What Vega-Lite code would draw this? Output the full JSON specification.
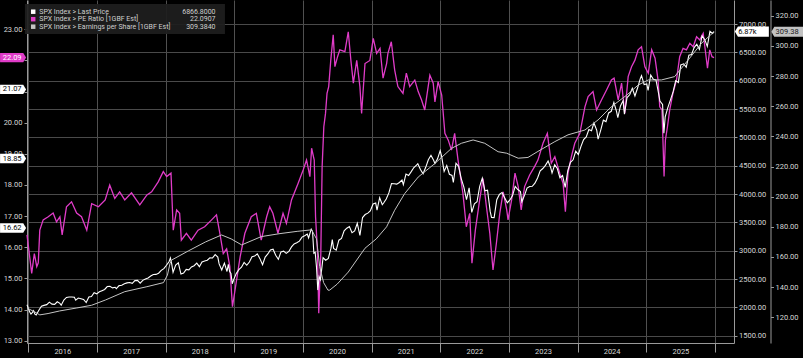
{
"$schema": "https://vega.github.io/schema/vega-lite/v6.json",
"width": 707, "height": 343,
"autosize": {"type": "none"},
"padding": {"left": 27, "top": 0, "right": 69, "bottom": 15},
"background": "#000000",
"config": {
  "view": {"stroke": null},
  "axis": {"labelFont": "Roboto", "labelFontSize": 7.5, "labelColor": "#d6d6d6", "domainColor": "#9a9a9a", "tickColor": "#9a9a9a", "gridColor": "#4a4a4a", "title": null, "tickSize": 3, "labelPadding": 2, "labelOverlap": false, "labelFlush": false, "labelBound": false},
  "text": {"font": "Roboto"}
},
"datasets": {
"price": [
{"date":"2015-12-25","v":2045},{"date":"2016-01-08","v":1922},{"date":"2016-01-15","v":1880},{"date":"2016-01-22","v":1907},{"date":"2016-01-29","v":1940},{"date":"2016-02-05","v":1880},{"date":"2016-02-12","v":1865},{"date":"2016-02-26","v":1948},{"date":"2016-03-11","v":2022},{"date":"2016-03-24","v":2035},{"date":"2016-04-08","v":2048},{"date":"2016-04-22","v":2092},{"date":"2016-05-06","v":2057},{"date":"2016-05-20","v":2052},{"date":"2016-06-03","v":2099},{"date":"2016-06-17","v":2071},{"date":"2016-06-24","v":2037},{"date":"2016-07-08","v":2130},{"date":"2016-07-22","v":2175},{"date":"2016-08-05","v":2183},{"date":"2016-08-19","v":2184},{"date":"2016-09-02","v":2180},{"date":"2016-09-09","v":2128},{"date":"2016-09-23","v":2165},{"date":"2016-10-07","v":2153},{"date":"2016-10-21","v":2141},{"date":"2016-11-04","v":2085},{"date":"2016-11-18","v":2182},{"date":"2016-12-02","v":2192},{"date":"2016-12-16","v":2258},{"date":"2016-12-30","v":2239},
{"date":"2017-01-13","v":2275},{"date":"2017-01-27","v":2295},{"date":"2017-02-10","v":2316},{"date":"2017-02-24","v":2367},{"date":"2017-03-10","v":2373},{"date":"2017-03-24","v":2344},{"date":"2017-04-07","v":2355},{"date":"2017-04-13","v":2329},{"date":"2017-04-28","v":2384},{"date":"2017-05-12","v":2391},{"date":"2017-05-26","v":2416},{"date":"2017-06-09","v":2432},{"date":"2017-06-23","v":2438},{"date":"2017-07-07","v":2425},{"date":"2017-07-21","v":2472},{"date":"2017-08-04","v":2477},{"date":"2017-08-18","v":2426},{"date":"2017-09-01","v":2477},{"date":"2017-09-15","v":2500},{"date":"2017-09-29","v":2519},{"date":"2017-10-13","v":2553},{"date":"2017-10-27","v":2581},{"date":"2017-11-10","v":2582},{"date":"2017-11-24","v":2602},{"date":"2017-12-08","v":2652},{"date":"2017-12-22","v":2684},
{"date":"2018-01-05","v":2743},{"date":"2018-01-19","v":2810},{"date":"2018-01-26","v":2873},{"date":"2018-02-02","v":2762},{"date":"2018-02-09","v":2620},{"date":"2018-02-23","v":2747},{"date":"2018-03-09","v":2786},{"date":"2018-03-23","v":2588},{"date":"2018-04-06","v":2604},{"date":"2018-04-20","v":2670},{"date":"2018-05-04","v":2663},{"date":"2018-05-18","v":2713},{"date":"2018-06-01","v":2735},{"date":"2018-06-15","v":2780},{"date":"2018-06-29","v":2718},{"date":"2018-07-13","v":2801},{"date":"2018-07-27","v":2819},{"date":"2018-08-10","v":2833},{"date":"2018-08-24","v":2875},{"date":"2018-09-07","v":2872},{"date":"2018-09-21","v":2930},{"date":"2018-10-05","v":2886},{"date":"2018-10-12","v":2767},{"date":"2018-10-26","v":2659},{"date":"2018-11-09","v":2781},{"date":"2018-11-23","v":2633},{"date":"2018-11-30","v":2760},{"date":"2018-12-07","v":2633},{"date":"2018-12-14","v":2600},{"date":"2018-12-21","v":2417},{"date":"2018-12-28","v":2486},
{"date":"2019-01-11","v":2596},{"date":"2019-01-25","v":2665},{"date":"2019-02-08","v":2708},{"date":"2019-02-22","v":2793},{"date":"2019-03-08","v":2743},{"date":"2019-03-22","v":2800},{"date":"2019-04-05","v":2893},{"date":"2019-04-19","v":2905},{"date":"2019-05-03","v":2946},{"date":"2019-05-17","v":2860},{"date":"2019-05-31","v":2752},{"date":"2019-06-14","v":2887},{"date":"2019-06-28","v":2942},{"date":"2019-07-12","v":3014},{"date":"2019-07-26","v":3026},{"date":"2019-08-09","v":2919},{"date":"2019-08-23","v":2847},{"date":"2019-09-06","v":2979},{"date":"2019-09-20","v":2992},{"date":"2019-10-04","v":2952},{"date":"2019-10-18","v":2986},{"date":"2019-11-01","v":3067},{"date":"2019-11-15","v":3120},{"date":"2019-11-29","v":3141},{"date":"2019-12-13","v":3169},{"date":"2019-12-27","v":3240},
{"date":"2020-01-10","v":3265},{"date":"2020-01-24","v":3295},{"date":"2020-01-31","v":3226},{"date":"2020-02-14","v":3380},{"date":"2020-02-21","v":3338},{"date":"2020-02-28","v":2954},{"date":"2020-03-06","v":2972},{"date":"2020-03-13","v":2711},{"date":"2020-03-20","v":2305},{"date":"2020-03-27","v":2541},{"date":"2020-04-03","v":2489},{"date":"2020-04-17","v":2875},{"date":"2020-05-01","v":2831},{"date":"2020-05-15","v":2864},{"date":"2020-05-29","v":3044},{"date":"2020-06-05","v":3194},{"date":"2020-06-12","v":3041},{"date":"2020-06-26","v":3009},{"date":"2020-07-10","v":3185},{"date":"2020-07-24","v":3216},{"date":"2020-08-07","v":3351},{"date":"2020-08-21","v":3397},{"date":"2020-09-04","v":3427},{"date":"2020-09-18","v":3319},{"date":"2020-10-02","v":3348},{"date":"2020-10-16","v":3484},{"date":"2020-10-30","v":3270},{"date":"2020-11-13","v":3585},{"date":"2020-11-27","v":3638},{"date":"2020-12-11","v":3663},{"date":"2020-12-24","v":3703},
{"date":"2021-01-08","v":3825},{"date":"2021-01-22","v":3841},{"date":"2021-01-29","v":3714},{"date":"2021-02-12","v":3934},{"date":"2021-02-26","v":3811},{"date":"2021-03-05","v":3842},{"date":"2021-03-19","v":3913},{"date":"2021-04-02","v":4020},{"date":"2021-04-16","v":4185},{"date":"2021-04-30","v":4181},{"date":"2021-05-14","v":4174},{"date":"2021-05-28","v":4204},{"date":"2021-06-11","v":4247},{"date":"2021-06-18","v":4166},{"date":"2021-07-02","v":4352},{"date":"2021-07-16","v":4327},{"date":"2021-07-30","v":4395},{"date":"2021-08-13","v":4468},{"date":"2021-08-27","v":4509},{"date":"2021-09-03","v":4535},{"date":"2021-09-17","v":4433},{"date":"2021-10-01","v":4357},{"date":"2021-10-15","v":4471},{"date":"2021-10-29","v":4605},{"date":"2021-11-12","v":4683},{"date":"2021-11-26","v":4595},{"date":"2021-12-03","v":4538},{"date":"2021-12-17","v":4621},{"date":"2021-12-31","v":4766},
{"date":"2022-01-07","v":4677},{"date":"2022-01-21","v":4398},{"date":"2022-02-04","v":4501},{"date":"2022-02-18","v":4349},{"date":"2022-03-04","v":4329},{"date":"2022-03-11","v":4204},{"date":"2022-03-25","v":4543},{"date":"2022-04-08","v":4488},{"date":"2022-04-22","v":4272},{"date":"2022-05-06","v":4123},{"date":"2022-05-20","v":3901},{"date":"2022-06-03","v":4109},{"date":"2022-06-17","v":3675},{"date":"2022-07-01","v":3825},{"date":"2022-07-15","v":3863},{"date":"2022-07-29","v":4130},{"date":"2022-08-12","v":4280},{"date":"2022-08-26","v":4058},{"date":"2022-09-09","v":4067},{"date":"2022-09-23","v":3693},{"date":"2022-09-30","v":3586},{"date":"2022-10-14","v":3583},{"date":"2022-10-28","v":3901},{"date":"2022-11-11","v":3993},{"date":"2022-11-25","v":4026},{"date":"2022-12-09","v":3934},{"date":"2022-12-23","v":3845},
{"date":"2023-01-06","v":3895},{"date":"2023-01-20","v":3973},{"date":"2023-02-03","v":4136},{"date":"2023-02-17","v":4079},{"date":"2023-03-03","v":4045},{"date":"2023-03-10","v":3862},{"date":"2023-03-24","v":3971},{"date":"2023-04-07","v":4105},{"date":"2023-04-21","v":4133},{"date":"2023-05-05","v":4136},{"date":"2023-05-19","v":4192},{"date":"2023-06-02","v":4282},{"date":"2023-06-16","v":4410},{"date":"2023-06-30","v":4450},{"date":"2023-07-14","v":4505},{"date":"2023-07-28","v":4582},{"date":"2023-08-11","v":4464},{"date":"2023-08-18","v":4370},{"date":"2023-09-01","v":4515},{"date":"2023-09-15","v":4450},{"date":"2023-09-29","v":4288},{"date":"2023-10-13","v":4327},{"date":"2023-10-27","v":4117},{"date":"2023-11-10","v":4415},{"date":"2023-11-24","v":4559},{"date":"2023-12-08","v":4604},{"date":"2023-12-22","v":4755},
{"date":"2024-01-05","v":4697},{"date":"2024-01-19","v":4840},{"date":"2024-02-02","v":4959},{"date":"2024-02-16","v":5006},{"date":"2024-03-01","v":5137},{"date":"2024-03-15","v":5117},{"date":"2024-03-28","v":5254},{"date":"2024-04-12","v":5123},{"date":"2024-04-19","v":4967},{"date":"2024-05-03","v":5128},{"date":"2024-05-17","v":5303},{"date":"2024-05-31","v":5278},{"date":"2024-06-14","v":5431},{"date":"2024-06-28","v":5460},{"date":"2024-07-12","v":5615},{"date":"2024-07-26","v":5459},{"date":"2024-08-02","v":5346},{"date":"2024-08-16","v":5554},{"date":"2024-08-30","v":5648},{"date":"2024-09-06","v":5408},{"date":"2024-09-20","v":5703},{"date":"2024-10-04","v":5751},{"date":"2024-10-18","v":5864},{"date":"2024-11-01","v":5729},{"date":"2024-11-15","v":5870},{"date":"2024-11-29","v":6032},{"date":"2024-12-06","v":6090},{"date":"2024-12-20","v":5930},
{"date":"2025-01-03","v":5942},{"date":"2025-01-10","v":5827},{"date":"2025-01-24","v":6101},{"date":"2025-02-07","v":6026},{"date":"2025-02-21","v":6013},{"date":"2025-03-07","v":5770},{"date":"2025-03-14","v":5639},{"date":"2025-03-28","v":5581},{"date":"2025-04-04","v":5074},{"date":"2025-04-11","v":5363},{"date":"2025-04-25","v":5525},{"date":"2025-05-09","v":5660},{"date":"2025-05-23","v":5802},{"date":"2025-06-06","v":6000},{"date":"2025-06-20","v":5967},{"date":"2025-07-03","v":6279},{"date":"2025-07-18","v":6297},{"date":"2025-08-01","v":6238},{"date":"2025-08-15","v":6450},{"date":"2025-08-29","v":6460},{"date":"2025-09-12","v":6584},{"date":"2025-09-26","v":6644},{"date":"2025-10-10","v":6553},{"date":"2025-10-24","v":6792},{"date":"2025-11-07","v":6728},{"date":"2025-11-21","v":6603},{"date":"2025-12-05","v":6870},{"date":"2025-12-19","v":6834},{"date":"2025-12-27","v":6866.8}
],
"pe": [
{"date":"2015-12-25","v":16.4},{"date":"2016-01-19","v":15.16},{"date":"2016-02-02","v":15.8},{"date":"2016-02-15","v":15.38},{"date":"2016-02-23","v":15.5},{"date":"2016-03-02","v":16.55},{"date":"2016-03-20","v":16.88},{"date":"2016-04-16","v":16.98},{"date":"2016-05-12","v":17.1},{"date":"2016-05-30","v":16.82},{"date":"2016-06-17","v":16.98},{"date":"2016-06-29","v":16.4},{"date":"2016-07-22","v":17.3},{"date":"2016-08-18","v":17.46},{"date":"2016-09-14","v":17.1},{"date":"2016-10-10","v":16.98},{"date":"2016-11-07","v":16.55},{"date":"2016-12-03","v":17.4},
{"date":"2017-01-08","v":17.3},{"date":"2017-02-13","v":17.52},{"date":"2017-03-09","v":18.0},{"date":"2017-04-05","v":17.57},{"date":"2017-05-01","v":17.78},{"date":"2017-05-28","v":17.52},{"date":"2017-07-03","v":17.75},{"date":"2017-08-16","v":17.36},{"date":"2017-09-23","v":17.68},{"date":"2017-10-18","v":17.78},{"date":"2017-11-22","v":18.1},{"date":"2017-12-19","v":18.43},
{"date":"2018-01-06","v":18.27},{"date":"2018-01-29","v":18.38},{"date":"2018-02-10","v":16.55},{"date":"2018-02-28","v":17.2},{"date":"2018-03-16","v":17.09},{"date":"2018-03-25","v":16.23},{"date":"2018-04-21","v":16.45},{"date":"2018-05-17","v":16.23},{"date":"2018-06-22","v":16.55},{"date":"2018-07-27","v":16.66},{"date":"2018-09-02","v":16.88},{"date":"2018-09-28","v":17.04},{"date":"2018-10-16","v":16.45},{"date":"2018-11-03","v":15.8},{"date":"2018-11-21","v":15.95},{"date":"2018-12-08","v":15.38},{"date":"2018-12-22","v":14.09},
{"date":"2019-01-13","v":14.95},{"date":"2019-02-01","v":15.7},{"date":"2019-02-26","v":16.45},{"date":"2019-04-01","v":16.98},{"date":"2019-04-28","v":17.09},{"date":"2019-05-24","v":16.23},{"date":"2019-06-22","v":16.98},{"date":"2019-07-08","v":17.3},{"date":"2019-07-25","v":17.09},{"date":"2019-08-21","v":16.45},{"date":"2019-09-17","v":17.09},{"date":"2019-10-05","v":16.77},{"date":"2019-11-01","v":17.52},{"date":"2019-12-06","v":18.05},
{"date":"2020-01-02","v":18.48},{"date":"2020-01-20","v":18.8},{"date":"2020-02-07","v":18.27},{"date":"2020-02-16","v":19.18},{"date":"2020-03-01","v":18.8},{"date":"2020-03-08","v":16.98},{"date":"2020-03-18","v":15.91},{"date":"2020-03-25","v":13.88},{"date":"2020-04-05","v":15.8},{"date":"2020-04-12","v":18.59},{"date":"2020-04-21","v":19.87},{"date":"2020-04-30","v":20.3},{"date":"2020-05-08","v":20.94},{"date":"2020-05-17","v":21.16},{"date":"2020-05-28","v":22.01},{"date":"2020-06-10","v":22.82},{"date":"2020-06-19","v":21.8},{"date":"2020-07-03","v":22.12},{"date":"2020-07-15","v":22.34},{"date":"2020-08-11","v":22.28},{"date":"2020-08-29","v":22.92},{"date":"2020-09-12","v":22.0},{"date":"2020-09-25","v":21.27},{"date":"2020-10-13","v":22.0},{"date":"2020-10-30","v":21.16},{"date":"2020-11-08","v":20.3},{"date":"2020-11-26","v":21.9},{"date":"2020-12-22","v":22.0},
{"date":"2021-01-09","v":22.71},{"date":"2021-01-27","v":22.23},{"date":"2021-02-14","v":22.39},{"date":"2021-03-02","v":21.43},{"date":"2021-03-21","v":21.9},{"date":"2021-03-28","v":22.23},{"date":"2021-04-15","v":22.6},{"date":"2021-05-03","v":21.69},{"date":"2021-05-20","v":21.16},{"date":"2021-06-16","v":20.94},{"date":"2021-07-04","v":21.59},{"date":"2021-07-22","v":21.16},{"date":"2021-08-18","v":21.37},{"date":"2021-09-05","v":21.0},{"date":"2021-09-23","v":20.73},{"date":"2021-10-10","v":20.41},{"date":"2021-11-06","v":21.53},{"date":"2021-11-24","v":21.27},{"date":"2021-12-03","v":20.67},{"date":"2021-12-20","v":21.32},
{"date":"2022-01-08","v":20.89},{"date":"2022-01-25","v":19.66},{"date":"2022-02-12","v":19.44},{"date":"2022-03-01","v":19.12},{"date":"2022-03-18","v":19.66},{"date":"2022-04-05","v":18.8},{"date":"2022-05-01","v":17.73},{"date":"2022-05-19","v":16.66},{"date":"2022-06-06","v":17.09},{"date":"2022-06-18","v":15.49},{"date":"2022-07-06","v":16.55},{"date":"2022-07-29","v":17.52},{"date":"2022-08-16","v":18.21},{"date":"2022-09-03","v":17.3},{"date":"2022-09-21","v":16.45},{"date":"2022-10-08","v":15.27},{"date":"2022-10-26","v":16.13},{"date":"2022-11-13","v":17.09},{"date":"2022-12-01","v":17.78},{"date":"2022-12-20","v":17.2},{"date":"2022-12-27","v":16.88},
{"date":"2023-01-15","v":17.52},{"date":"2023-02-02","v":18.38},{"date":"2023-02-19","v":17.95},{"date":"2023-03-07","v":17.2},{"date":"2023-03-25","v":17.95},{"date":"2023-04-21","v":18.32},{"date":"2023-05-17","v":18.59},{"date":"2023-06-04","v":18.8},{"date":"2023-07-01","v":19.34},{"date":"2023-07-24","v":19.66},{"date":"2023-08-14","v":18.7},{"date":"2023-09-02","v":18.91},{"date":"2023-09-28","v":18.38},{"date":"2023-10-16","v":18.05},{"date":"2023-10-28","v":17.14},{"date":"2023-11-11","v":18.38},{"date":"2023-11-29","v":18.91},{"date":"2023-12-17","v":19.34},
{"date":"2024-01-13","v":19.66},{"date":"2024-02-09","v":20.51},{"date":"2024-02-26","v":20.84},{"date":"2024-03-23","v":21.0},{"date":"2024-04-11","v":20.41},{"date":"2024-05-07","v":20.73},{"date":"2024-06-03","v":21.05},{"date":"2024-06-29","v":21.37},{"date":"2024-07-13","v":21.43},{"date":"2024-08-04","v":20.73},{"date":"2024-08-22","v":21.27},{"date":"2024-09-08","v":20.3},{"date":"2024-09-26","v":21.48},{"date":"2024-10-14","v":21.8},{"date":"2024-11-01","v":22.01},{"date":"2024-11-18","v":22.34},{"date":"2024-12-06","v":22.44},{"date":"2024-12-24","v":21.8},
{"date":"2025-01-11","v":21.59},{"date":"2025-01-29","v":22.34},{"date":"2025-02-16","v":22.07},{"date":"2025-03-04","v":21.37},{"date":"2025-03-13","v":20.51},{"date":"2025-03-25","v":20.41},{"date":"2025-04-05","v":18.27},{"date":"2025-04-12","v":19.44},{"date":"2025-04-23","v":19.87},{"date":"2025-05-05","v":20.41},{"date":"2025-05-22","v":20.94},{"date":"2025-06-10","v":21.37},{"date":"2025-06-27","v":22.12},{"date":"2025-07-15","v":22.39},{"date":"2025-08-02","v":22.34},{"date":"2025-08-20","v":22.55},{"date":"2025-09-07","v":22.44},{"date":"2025-09-25","v":22.76},{"date":"2025-10-12","v":22.66},{"date":"2025-10-30","v":22.87},{"date":"2025-11-08","v":22.44},{"date":"2025-11-22","v":21.75},{"date":"2025-12-04","v":22.34},{"date":"2025-12-16","v":22.12},{"date":"2025-12-27","v":22.0907}
],
"eps": [
{"date":"2015-12-25","v":126.2},{"date":"2016-02-05","v":123.5},{"date":"2016-03-02","v":121.6},{"date":"2016-04-15","v":122.5},{"date":"2016-06-15","v":124.2},{"date":"2016-09-15","v":126.2},{"date":"2016-12-03","v":128},{"date":"2017-02-15","v":131.5},{"date":"2017-05-28","v":137},{"date":"2017-09-23","v":140.3},{"date":"2017-12-20","v":143},{"date":"2018-01-10","v":148},{"date":"2018-01-24","v":155.8},{"date":"2018-02-02","v":158},{"date":"2018-05-01","v":164},{"date":"2018-08-01","v":170},{"date":"2018-10-25","v":174.6},{"date":"2018-12-15","v":172},{"date":"2019-02-09","v":168},{"date":"2019-05-24","v":173.5},{"date":"2019-09-01","v":175.5},{"date":"2019-12-01","v":177},{"date":"2020-02-16","v":178},{"date":"2020-03-13","v":172},{"date":"2020-03-30","v":153.6},{"date":"2020-04-20","v":143},{"date":"2020-05-13","v":138},{"date":"2020-05-22","v":138},{"date":"2020-07-01","v":142},{"date":"2020-08-29","v":150},{"date":"2020-11-26","v":165.8},{"date":"2021-01-25","v":172},{"date":"2021-03-21","v":180},{"date":"2021-05-03","v":191},{"date":"2021-06-25","v":202},{"date":"2021-09-05","v":213},{"date":"2021-12-03","v":222},{"date":"2022-03-01","v":232},{"date":"2022-04-23","v":235.4},{"date":"2022-06-24","v":237.6},{"date":"2022-08-25","v":235.4},{"date":"2022-11-04","v":229.8},{"date":"2022-12-20","v":228.8},{"date":"2023-02-19","v":225.5},{"date":"2023-04-12","v":226},{"date":"2023-06-04","v":230},{"date":"2023-09-02","v":236.5},{"date":"2023-11-11","v":241},{"date":"2024-02-09","v":244.2},{"date":"2024-04-19","v":250.9},{"date":"2024-06-29","v":259.7},{"date":"2024-09-19","v":267.4},{"date":"2024-11-18","v":274},{"date":"2025-01-11","v":277.4},{"date":"2025-03-22","v":277.4},{"date":"2025-05-31","v":279.6},{"date":"2025-08-11","v":290.6},{"date":"2025-10-21","v":301.7},{"date":"2025-12-27","v":309.384}
]
},
"layer": [
{
  "layer": [
    {"mark": {"type": "rule", "color": "#4f9f4f", "strokeWidth": 1}, "encoding": {"y": {"datum": 21.07, "axis": {"orient": "left", "values": [13,14,15,16,17,18,19,20,21,22,23], "format": ".2f", "labelExpr": "datum.value === 21 || datum.value === 22 ? '' : datum.label", "labelOverlap": false, "grid": false, "tickSize": 3, "labelPadding": 2}}}},
    {"mark": {"type": "rule", "color": "#5aa85a", "strokeWidth": 1}, "encoding": {"y": {"datum": 16.62, "axis": {"orient": "left", "values": [13,14,15,16,17,18,19,20,21,22,23], "format": ".2f", "labelExpr": "datum.value === 21 || datum.value === 22 ? '' : datum.label", "labelOverlap": false, "grid": false, "tickSize": 3, "labelPadding": 2}}}},
    {"mark": {"type": "rule", "color": "#33cc33", "strokeWidth": 1, "strokeDash": [4, 2, 1, 2]}, "encoding": {"y": {"datum": 18.85, "axis": {"orient": "left", "values": [13,14,15,16,17,18,19,20,21,22,23], "format": ".2f", "labelExpr": "datum.value === 21 || datum.value === 22 ? '' : datum.label", "labelOverlap": false, "grid": false, "tickSize": 3, "labelPadding": 2}}}},
    {"data": {"name": "pe"}, "mark": {"type": "line", "color": "#e03cc8", "strokeWidth": 1.3},
     "encoding": {
       "x": {"field": "date", "type": "temporal",
             "scale": {"domain": [{"year": 2015, "month": 12, "date": 25}, {"year": 2026, "month": 4, "date": 12}], "nice": false},
             "axis": {"tickCount": {"interval": "year", "step": 1}, "format": "%Y", "labelExpr": "year(datum.value) >= 2026 ? '' : datum.label", "labelOffset": 34, "labelAlign": "center", "grid": true, "gridColor": "#505050", "tickSize": 9, "labelPadding": -5, "labelOverlap": false}},
       "y": {"field": "v", "type": "quantitative",
             "scale": {"domain": [12.926, 23.941], "nice": false, "zero": false},
             "axis": {"orient": "left", "values": [13,14,15,16,17,18,19,20,21,22,23], "format": ".2f", "labelExpr": "datum.value === 21 || datum.value === 22 ? '' : datum.label", "labelOverlap": false, "grid": false, "tickSize": 3, "labelPadding": 2}}
     }},
    {"data": {"values": [{"v": 21.07}, {"v": 18.85}, {"v": 16.62}]},
     "layer": [
       {"mark": {"type": "point", "shape": "M-1,-0.36 L0.78,-0.36 L1,0 L0.78,0.36 L-1,0.36 Z", "filled": true, "color": "#ffffff", "opacity": 1, "size": 676},
        "encoding": {"x": {"datum": {"year": 2015, "month": 10, "date": 12}, "type": "temporal"}, "y": {"field": "v", "type": "quantitative", "axis": {"orient": "left", "values": [13,14,15,16,17,18,19,20,21,22,23], "format": ".2f", "labelExpr": "datum.value === 21 || datum.value === 22 ? '' : datum.label", "labelOverlap": false, "grid": false, "tickSize": 3, "labelPadding": 2}}}},
       {"mark": {"type": "text", "fontSize": 7.5, "color": "#000000"},
        "encoding": {"x": {"datum": {"year": 2015, "month": 10, "date": 7}, "type": "temporal"}, "y": {"field": "v", "type": "quantitative", "axis": {"orient": "left", "values": [13,14,15,16,17,18,19,20,21,22,23], "format": ".2f", "labelExpr": "datum.value === 21 || datum.value === 22 ? '' : datum.label", "labelOverlap": false, "grid": false, "tickSize": 3, "labelPadding": 2}}, "text": {"field": "v", "type": "quantitative", "format": ".2f"}}}
     ]},
    {"data": {"values": [{"v": 22.0907}]},
     "layer": [
       {"mark": {"type": "point", "shape": "M-1,-0.36 L0.78,-0.36 L1,0 L0.78,0.36 L-1,0.36 Z", "filled": true, "color": "#e03cc8", "opacity": 1, "size": 676},
        "encoding": {"x": {"datum": {"year": 2015, "month": 10, "date": 12}, "type": "temporal"}, "y": {"field": "v", "type": "quantitative", "axis": {"orient": "left", "values": [13,14,15,16,17,18,19,20,21,22,23], "format": ".2f", "labelExpr": "datum.value === 21 || datum.value === 22 ? '' : datum.label", "labelOverlap": false, "grid": false, "tickSize": 3, "labelPadding": 2}}}},
       {"mark": {"type": "text", "fontSize": 7.5, "color": "#ffffff"},
        "encoding": {"x": {"datum": {"year": 2015, "month": 10, "date": 7}, "type": "temporal"}, "y": {"field": "v", "type": "quantitative", "axis": {"orient": "left", "values": [13,14,15,16,17,18,19,20,21,22,23], "format": ".2f", "labelExpr": "datum.value === 21 || datum.value === 22 ? '' : datum.label", "labelOverlap": false, "grid": false, "tickSize": 3, "labelPadding": 2}}, "text": {"field": "v", "type": "quantitative", "format": ".2f"}}}
     ]}
  ]
},
{
  "layer": [
    {"data": {"name": "price"}, "mark": {"type": "line", "color": "#ffffff", "strokeWidth": 1.1},
     "encoding": {
       "x": {"field": "date", "type": "temporal"},
       "y": {"field": "v", "type": "quantitative",
             "scale": {"domain": [1371.2, 7423.5], "nice": false, "zero": false},
             "axis": {"orient": "right", "values": [1500,2000,2500,3000,3500,4000,4500,5000,5500,6000,6500,7000], "format": ".2f", "labelOverlap": false, "grid": true, "gridColor": "#4a4a4a", "tickSize": 3, "labelPadding": 1.5}}
     }},
    {"data": {"values": [{"v": 6866.8}]},
     "layer": [
       {"mark": {"type": "point", "shape": "M-1,0 L-0.82,-0.3 L1,-0.3 L1,0.3 L-0.82,0.3 Z", "filled": true, "color": "#ffffff", "opacity": 1, "size": 1156},
        "encoding": {"x": {"datum": {"year": 2026, "month": 7, "date": 16}, "type": "temporal"}, "y": {"field": "v", "type": "quantitative", "axis": {"orient": "right", "values": [1500,2000,2500,3000,3500,4000,4500,5000,5500,6000,6500,7000], "format": ".2f", "labelOverlap": false, "grid": true, "gridColor": "#4a4a4a", "tickSize": 3, "labelPadding": 1.5}}}},
       {"mark": {"type": "text", "fontSize": 7.5, "color": "#000000", "align": "left"},
        "encoding": {"x": {"datum": {"year": 2026, "month": 5, "date": 4}, "type": "temporal"}, "y": {"field": "v", "type": "quantitative", "axis": {"orient": "right", "values": [1500,2000,2500,3000,3500,4000,4500,5000,5500,6000,6500,7000], "format": ".2f", "labelOverlap": false, "grid": true, "gridColor": "#4a4a4a", "tickSize": 3, "labelPadding": 1.5}}, "text": {"field": "v", "type": "quantitative", "format": ".3s"}}}
     ]}
  ]
},
{
  "layer": [
    {"data": {"name": "eps"}, "mark": {"type": "line", "color": "#c4c4c4", "strokeWidth": 1},
     "encoding": {
       "x": {"field": "date", "type": "temporal"},
       "y": {"field": "v", "type": "quantitative",
             "scale": {"domain": [102.96, 330.41], "nice": false, "zero": false},
             "axis": {"orient": "right", "offset": 36.5, "values": [120,140,160,180,200,220,240,260,280,300,320], "format": ".2f", "labelOverlap": false, "grid": false, "tickSize": 3, "labelPadding": 1.5}}
     }},
    {"data": {"values": [{"v": 309.384}]},
     "layer": [
       {"mark": {"type": "point", "shape": "M-1,0 L-0.82,-0.31 L1,-0.31 L1,0.31 L-0.82,0.31 Z", "filled": true, "color": "#c2c2c2", "opacity": 1, "size": 1024},
        "encoding": {"x": {"datum": {"year": 2027, "month": 1, "date": 21}, "type": "temporal"}, "y": {"field": "v", "type": "quantitative", "axis": {"orient": "right", "offset": 36.5, "values": [120,140,160,180,200,220,240,260,280,300,320], "format": ".2f", "labelOverlap": false, "grid": false, "tickSize": 3, "labelPadding": 1.5}}}},
       {"mark": {"type": "text", "fontSize": 7.5, "color": "#1a1a1a", "align": "left"},
        "encoding": {"x": {"datum": {"year": 2026, "month": 11, "date": 19}, "type": "temporal"}, "y": {"field": "v", "type": "quantitative", "axis": {"orient": "right", "offset": 36.5, "values": [120,140,160,180,200,220,240,260,280,300,320], "format": ".2f", "labelOverlap": false, "grid": false, "tickSize": 3, "labelPadding": 1.5}}, "text": {"field": "v", "type": "quantitative", "format": ".2f"}}}
     ]},
    {"data": {"values": [{}]},
     "mark": {"type": "rect", "color": "#1e1e1e", "opacity": 0.93},
     "encoding": {
       "x": {"datum": {"year": 2015, "month": 12, "date": 14}, "type": "temporal"},
       "x2": {"datum": {"year": 2018, "month": 11, "date": 12}},
       "y": {"datum": 327.76, "axis": {"orient": "right", "offset": 36.5, "values": [120,140,160,180,200,220,240,260,280,300,320], "format": ".2f", "labelOverlap": false, "grid": false, "tickSize": 3, "labelPadding": 1.5}}, "y2": {"datum": 307.87}
     }},
    {"data": {"values": [{"name": "SPX Index > Last Price", "val": "6866.8000"}]},
     "encoding": {"y": {"datum": 322.65, "axis": {"orient": "right", "offset": 36.5, "values": [120,140,160,180,200,220,240,260,280,300,320], "format": ".2f", "labelOverlap": false, "grid": false, "tickSize": 3, "labelPadding": 1.5}}},
     "layer": [
       {"mark": {"type": "point", "shape": "square", "filled": true, "color": "#ffffff", "opacity": 1, "size": 20},
        "encoding": {"x": {"datum": {"year": 2016, "month": 1, "date": 27}, "type": "temporal"}}},
       {"mark": {"type": "text", "fontSize": 7, "color": "#cfcfcf", "align": "left"},
        "encoding": {"x": {"datum": {"year": 2016, "month": 2, "date": 28}, "type": "temporal"}, "text": {"field": "name"}}},
       {"mark": {"type": "text", "fontSize": 7, "color": "#cfcfcf", "align": "right"},
        "encoding": {"x": {"datum": {"year": 2018, "month": 9, "date": 23}, "type": "temporal"}, "text": {"field": "val"}}}
     ]},
    {"data": {"values": [{"name": "SPX Index > PE Ratio [1GBF Est]", "val": "22.0907"}]},
     "encoding": {"y": {"datum": 317.68, "axis": {"orient": "right", "offset": 36.5, "values": [120,140,160,180,200,220,240,260,280,300,320], "format": ".2f", "labelOverlap": false, "grid": false, "tickSize": 3, "labelPadding": 1.5}}},
     "layer": [
       {"mark": {"type": "point", "shape": "square", "filled": true, "color": "#e03cc8", "opacity": 1, "size": 20},
        "encoding": {"x": {"datum": {"year": 2016, "month": 1, "date": 27}, "type": "temporal"}}},
       {"mark": {"type": "text", "fontSize": 7, "color": "#cfcfcf", "align": "left"},
        "encoding": {"x": {"datum": {"year": 2016, "month": 2, "date": 28}, "type": "temporal"}, "text": {"field": "name"}}},
       {"mark": {"type": "text", "fontSize": 7, "color": "#cfcfcf", "align": "right"},
        "encoding": {"x": {"datum": {"year": 2018, "month": 9, "date": 23}, "type": "temporal"}, "text": {"field": "val"}}}
     ]},
    {"data": {"values": [{"name": "SPX Index > Earnings per Share [1GBF Est]", "val": "309.3840"}]},
     "encoding": {"y": {"datum": 312.71, "axis": {"orient": "right", "offset": 36.5, "values": [120,140,160,180,200,220,240,260,280,300,320], "format": ".2f", "labelOverlap": false, "grid": false, "tickSize": 3, "labelPadding": 1.5}}},
     "layer": [
       {"mark": {"type": "point", "shape": "square", "filled": true, "color": "#c4c4c4", "opacity": 1, "size": 20},
        "encoding": {"x": {"datum": {"year": 2016, "month": 1, "date": 27}, "type": "temporal"}}},
       {"mark": {"type": "text", "fontSize": 7, "color": "#cfcfcf", "align": "left"},
        "encoding": {"x": {"datum": {"year": 2016, "month": 2, "date": 28}, "type": "temporal"}, "text": {"field": "name"}}},
       {"mark": {"type": "text", "fontSize": 7, "color": "#cfcfcf", "align": "right"},
        "encoding": {"x": {"datum": {"year": 2018, "month": 9, "date": 23}, "type": "temporal"}, "text": {"field": "val"}}}
     ]}
  ]
}
],
"resolve": {"scale": {"y": "independent"}, "axis": {"y": "independent"}}
}
